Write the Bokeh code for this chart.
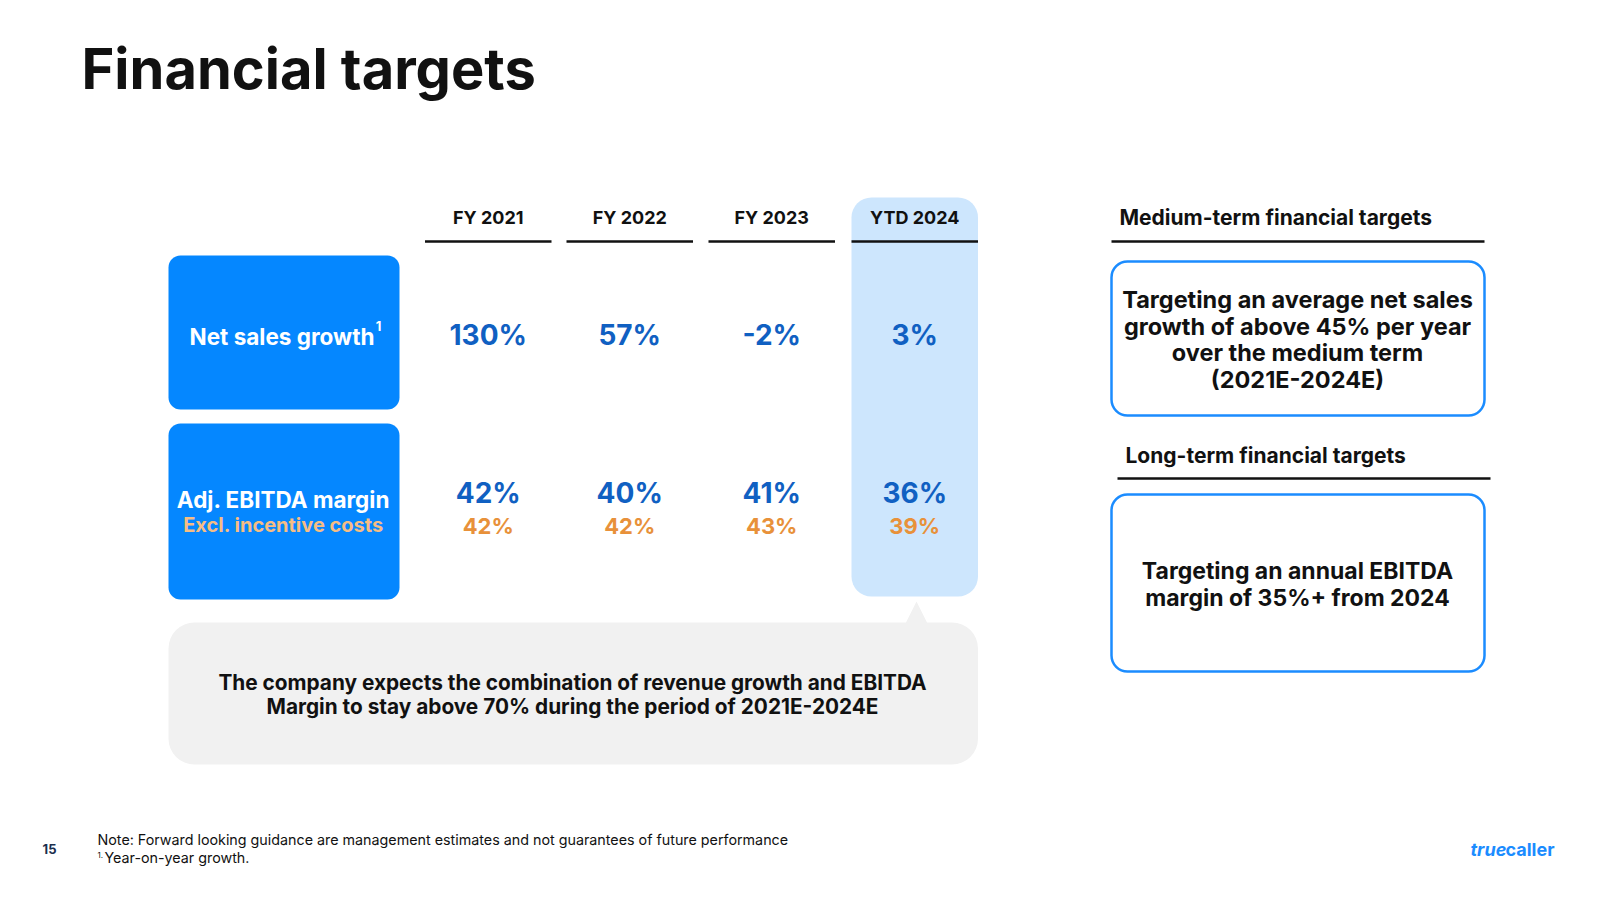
from bokeh.plotting import figure
from bokeh.models import Range1d
from bokeh.core.properties import value
from bokeh.embed import file_html
from bokeh.resources import INLINE

# ---------------- data ----------------
years = ["FY 2021", "FY 2022", "FY 2023", "YTD 2024"]
net_sales_growth = [130, 57, -2, 3]
adj_ebitda_margin = [42, 40, 41, 36]
ebitda_excl_incentive = [42, 42, 43, 39]
row_labels = ["Net sales growth", "Adj. EBITDA margin"]
row_sublabel = "Excl. incentive costs"
title = "Financial targets"
callout_lines = ["The company expects the combination of revenue growth and EBITDA",
                 "Margin to stay above 70% during the period of 2021E-2024E"]
medium_title = "Medium-term financial targets"
medium_lines = ["Targeting an average net sales", "growth of above 45% per year",
                "over the medium term", "(2021E-2024E)"]
long_title = "Long-term financial targets"
long_lines = ["Targeting an annual EBITDA", "margin of 35%+ from 2024"]
note_line = "Note: Forward looking guidance are management estimates and not guarantees of future performance"
footnote = "Year-on-year growth."
page_no = "15"

# ---------------- style ----------------
FONT = value("Inter")
BLUE_BOX = "#0587ff"
VAL_BLUE = "#1060c2"
ORANGE = "#e8913a"
LIGHT_ORANGE = "#f6bd84"
HIGHLIGHT = "#cde6fd"
GRAY = "#f1f1f1"
BORDER = "#1b8cff"
INK = "#111111"

p = figure(width=1584, height=884, x_range=Range1d(0, 1584), y_range=Range1d(884, 0),
           output_backend="svg", toolbar_location=None, min_border=0)
p.axis.visible = False
p.grid.visible = False
p.outline_line_color = None
p.background_fill_color = "white"
p.border_fill_color = "white"

def txt(x, y, t, size, color=INK, style="bold", align="center", baseline="middle"):
    p.text(x=[x], y=[y], text=[t], text_font=FONT, text_font_size=f"{size}px",
           text_font_style=style, text_color=color, text_align=align, text_baseline=baseline)

# title
txt(81, 68, title, 56, align="left")

# column layout
col_left = [424.5, 566, 708, 851]
col_w = 126.5
col_cx = [c + col_w / 2 for c in col_left]

# YTD highlight column
p.quad(left=[col_left[3]], right=[col_left[3] + col_w], top=[197], bottom=[596],
       fill_color=HIGHLIGHT, line_color=None, border_radius=20)

# callout box + pointer
p.quad(left=[168], right=[977.5], top=[622], bottom=[764], fill_color=GRAY,
       line_color=None, border_radius=26)
p.patch(x=[905, 916, 927], y=[623, 601, 623], fill_color=GRAY, line_color=None)

# headers and underlines
for i, yr in enumerate(years):
    txt(col_cx[i], 217, yr, 18)
    p.line(x=[col_left[i], col_left[i] + col_w], y=[241, 241], line_color=INK, line_width=2.5)

# row label boxes
p.quad(left=[168, 168], right=[399, 399], top=[255, 423], bottom=[409, 599],
       fill_color=BLUE_BOX, line_color=None, border_radius=12)
txt(374, 336, row_labels[0], 22.5, color="white", align="right")
txt(378, 325, "1", 13, color="white")
txt(283, 499, row_labels[1], 22.5, color="white")
txt(283, 524, row_sublabel, 20, color=LIGHT_ORANGE)

# values
for i in range(len(years)):
    txt(col_cx[i], 334, f"{net_sales_growth[i]}%", 28, color=VAL_BLUE)
    txt(col_cx[i], 492, f"{adj_ebitda_margin[i]}%", 28, color=VAL_BLUE)
    txt(col_cx[i], 525, f"{ebitda_excl_incentive[i]}%", 22, color=ORANGE)

# callout text
txt(572, 682, callout_lines[0], 20.8)
txt(572, 706, callout_lines[1], 20.8)

# right panel
txt(1119, 217, medium_title, 21, align="left")
p.line(x=[1111, 1484], y=[241, 241], line_color=INK, line_width=2.5)
p.quad(left=[1111], right=[1484], top=[261], bottom=[415], fill_color="white",
       line_color=BORDER, line_width=2.5, border_radius=16)
for j, ln in enumerate(medium_lines):
    txt(1297, 299 + j * 26.5, ln, 23.5)

txt(1125, 455, long_title, 21, align="left")
p.line(x=[1117, 1490], y=[478, 478], line_color=INK, line_width=2.5)
p.quad(left=[1111], right=[1484], top=[494], bottom=[671], fill_color="white",
       line_color=BORDER, line_width=2.5, border_radius=16)
for j, ln in enumerate(long_lines):
    txt(1297, 570 + j * 27, ln, 23)

# footer
txt(49, 848, page_no, 13, color="#1c2e4e")
txt(97, 839, note_line, 14.3, style="normal", align="left")
txt(97, 854, "1.", 8, style="normal", align="left")
txt(104, 857, footnote, 14.3, style="normal", align="left")

# logo
txt(1470, 849, "true", 18, color=BORDER, style="bold italic", align="left")
txt(1505, 849, "caller", 18, color=BORDER, align="left")

open("out.html", "w").write(file_html(p, INLINE))
